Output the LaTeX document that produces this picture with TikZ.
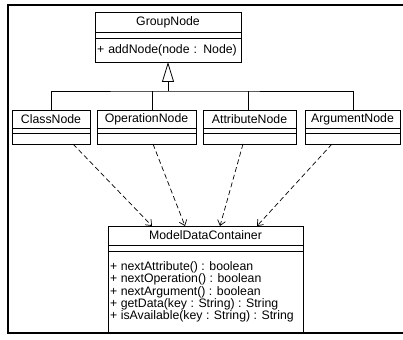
\documentclass[tikz,border=0pt]{standalone}
\usepackage{fontspec}
\setmainfont{Liberation Sans}
\usetikzlibrary{arrows.meta}
\begin{document}
\begin{tikzpicture}[x=1pt,y=-1pt,
  font=\fontsize{12.3}{10.6}\selectfont,
  comp/.style={draw, line width=0.8pt, inner sep=0pt, outer sep=0pt},
  ops/.style={comp, inner xsep=2pt, align=left},
  dep/.style={line width=0.7pt, dash pattern=on 5pt off 3pt, -{Straight Barb[length=5pt,width=8pt]}},
  gen/.style={line width=0.8pt, -{Triangle[open,length=20pt,width=12pt]}},
  tree/.style={line width=0.8pt}]
\useasboundingbox (0,0) rectangle (403,339);
% outer frame
\draw[line width=1.6pt] (403,5) -- (8,5) -- (8,333) -- (403,333);

% GroupNode
\node[comp, minimum width=146, minimum height=20, anchor=north west] (gn) at (95,12) {GroupNode};
\node[comp, minimum width=146, minimum height=6, anchor=north] (gna) at (gn.south) {};
\node[ops, text width=142, minimum height=24, anchor=north] (gno) at (gna.south) {+ addNode(node : Node)};

% subclasses
\node[comp, minimum width=78, minimum height=18, anchor=north west] (cn) at (12,110) {ClassNode};
\node[comp, minimum width=78, minimum height=5, anchor=north] (cna) at (cn.south) {};
\node[comp, minimum width=78, minimum height=11, anchor=north] (cno) at (cna.south) {};

\node[comp, minimum width=99, minimum height=18, anchor=north west] (on) at (97,110) {OperationNode};
\node[comp, minimum width=99, minimum height=5, anchor=north] (ona) at (on.south) {};
\node[comp, minimum width=99, minimum height=11, anchor=north] (ono) at (ona.south) {};

\node[comp, minimum width=93, minimum height=18, anchor=north west] (atn) at (203,110) {AttributeNode};
\node[comp, minimum width=93, minimum height=5, anchor=north] (atna) at (atn.south) {};
\node[comp, minimum width=93, minimum height=11, anchor=north] (atno) at (atna.south) {};

\node[comp, minimum width=95, minimum height=18, anchor=north west] (agn) at (305,110) {ArgumentNode};
\node[comp, minimum width=95, minimum height=5, anchor=north] (agna) at (agn.south) {};
\node[comp, minimum width=95, minimum height=11, anchor=north] (agno) at (agna.south) {};

% ModelDataContainer
\node[comp, minimum width=195, minimum height=19, anchor=north west] (mdc) at (108,226) {ModelDataContainer};
\node[comp, minimum width=195, minimum height=6, anchor=north] (mdca) at (mdc.south) {};
\node[comp, minimum width=195, minimum height=81, anchor=north] (mdco) at (mdca.south) {};
\node[inner sep=0pt, align=left, anchor=north west] (mdct) at ([shift={(2,10)}]mdco.north west)
  {+ nextAttribute() : boolean\\
   + nextOperation() : boolean\\
   + nextArgument() : boolean\\
   + getData(key : String) : String\\
   + isAvailable(key : String) : String};

% generalization tree
\coordinate (hub) at (168,91);
\draw[gen] (hub) -- (gno.south);
\draw[tree] (cn.north) |- (hub) -| ([xshift=0.5pt]agn.north);
\draw[tree] ([xshift=5.5pt]on.north) -- ([xshift=5.5pt]on.north |- hub);
\draw[tree] ([xshift=-1.5pt]atn.north) -- ([xshift=-1.5pt]atn.north |- hub);

% dependencies
\draw[dep] ([xshift=22pt]cno.south) -- ([xshift=-53.5pt]mdc.north);
\draw[dep] ([xshift=6.5pt]ono.south) -- ([xshift=-20.5pt]mdc.north);
\draw[dep] ([xshift=-6.5pt]atno.south) -- ([xshift=14.5pt]mdc.north);
\draw[dep] ([xshift=-20.5pt]agno.south) -- ([xshift=51.5pt]mdc.north);
\end{tikzpicture}
\end{document}
